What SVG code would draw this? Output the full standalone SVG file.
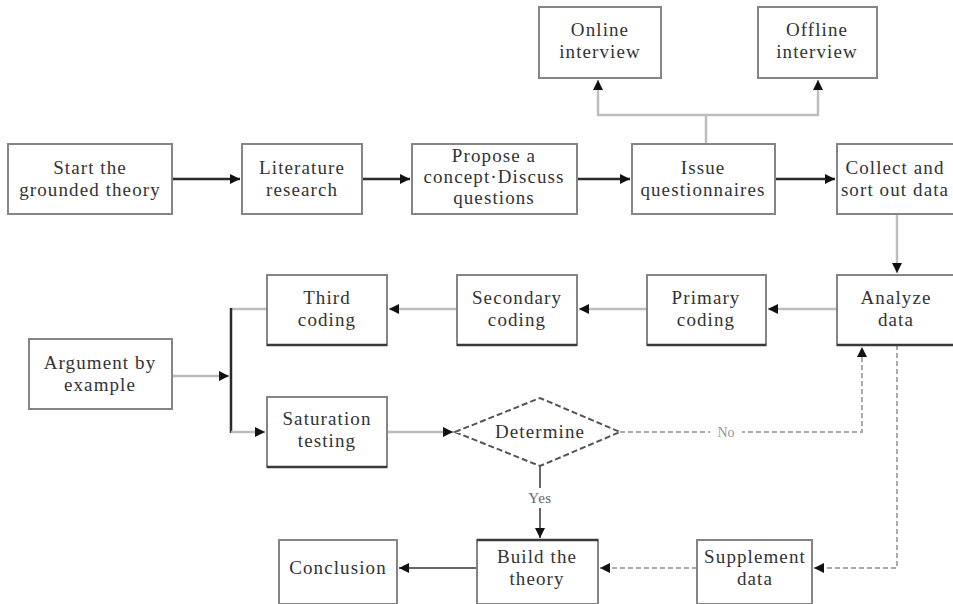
<svg xmlns="http://www.w3.org/2000/svg" width="953" height="604" viewBox="0 0 953 604">
<style>
.box{fill:#fff;stroke:#858585;stroke-width:2}
.bot{stroke:#3a3a3a;stroke-width:2.5}
.t{font-family:"Liberation Serif","Times New Roman",serif;font-size:19px;letter-spacing:1.1px;fill:#333;text-anchor:middle}
.dk{fill:none;stroke:#2a2a2a;stroke-width:2.5}
.lg{fill:none;stroke:#bdbdbd;stroke-width:2.5}
.mg{fill:none;stroke:#666;stroke-width:2}
.ds{fill:none;stroke:#aaa;stroke-width:2;stroke-dasharray:5,3}
</style>
<defs>
<marker id="a" viewBox="0 0 10 10" refX="10" refY="5" markerWidth="4" markerHeight="4" orient="auto" markerUnits="strokeWidth">
<path d="M0,0 L10,5 L0,10 z" fill="#111"/>
</marker>
<marker id="a2" viewBox="0 0 10 10" refX="10" refY="5" markerWidth="5" markerHeight="5" orient="auto" markerUnits="strokeWidth">
<path d="M0,0 L10,5 L0,10 z" fill="#111"/>
</marker>
</defs>
<g id="connectors">
<line class="dk" x1="172" y1="179" x2="240" y2="179" marker-end="url(#a)"/>
<line class="dk" x1="362" y1="179" x2="410" y2="179" marker-end="url(#a)"/>
<line class="dk" x1="577" y1="179" x2="630" y2="179" marker-end="url(#a)"/>
<line class="dk" x1="775" y1="179" x2="835" y2="179" marker-end="url(#a)"/>
<polyline class="lg" points="706,144 706,115 598,115 598,80" marker-end="url(#a)"/>
<polyline class="lg" points="706,115 818,115 818,80" marker-end="url(#a)"/>
<line class="lg" x1="897" y1="214" x2="897" y2="273" marker-end="url(#a)"/>
<line class="lg" x1="837" y1="309" x2="768" y2="309" marker-end="url(#a)"/>
<line class="lg" x1="647" y1="309" x2="579" y2="309" marker-end="url(#a)"/>
<line class="lg" x1="457" y1="309" x2="389" y2="309" marker-end="url(#a)"/>
<line class="lg" x1="267" y1="309" x2="231" y2="309"/>
<line class="dk" x1="231" y1="308" x2="231" y2="433"/>
<line class="lg" x1="172" y1="376" x2="229" y2="376" marker-end="url(#a)"/>
<line class="lg" x1="231" y1="432" x2="265" y2="432" marker-end="url(#a)"/>
<line class="lg" x1="387" y1="432" x2="453" y2="432" marker-end="url(#a)"/>
<polyline class="ds" points="620,432 862,432 862,347" marker-end="url(#a2)"/>
<polyline class="ds" points="897,345 897,568 814,568" marker-end="url(#a2)"/>
<line class="ds" x1="697" y1="568" x2="600" y2="568" marker-end="url(#a2)"/>
<line class="mg" x1="477" y1="568" x2="399" y2="568" marker-end="url(#a2)"/>
<line class="mg" x1="540" y1="466" x2="540" y2="538" marker-end="url(#a2)"/>
<rect x="710" y="423" width="32" height="18" fill="#fff"/>
<text class="t" x="726" y="437" style="font-size:14px;letter-spacing:0;fill:#999">No</text>
<rect x="522" y="488" width="36" height="20" fill="#fff"/>
<text class="t" x="540" y="503" style="font-size:15px;letter-spacing:0.5px;fill:#666">Yes</text>
</g>
<g id="start"><rect class="box" x="8" y="144" width="164" height="70"/><text class="t" x="90" y="174">Start the</text><text class="t" x="90" y="196">grounded theory</text></g>
<g id="literature"><rect class="box" x="242" y="144" width="120" height="70"/><text class="t" x="302" y="174">Literature</text><text class="t" x="302" y="196">research</text></g>
<g id="propose"><rect class="box" x="412" y="144" width="165" height="70"/><text class="t" x="494" y="162">Propose a</text><text class="t" x="494" y="183">concept·Discuss</text><text class="t" x="494" y="204">questions</text></g>
<g id="issue"><rect class="box" x="632" y="144" width="143" height="70"/><text class="t" x="703" y="174">Issue</text><text class="t" x="703" y="196">questionnaires</text></g>
<g id="collect"><rect class="box" x="837" y="144" width="125" height="70"/><text class="t" x="895" y="174">Collect and</text><text class="t" x="895" y="196">sort out data</text></g>
<g id="online"><rect class="box" x="539" y="7" width="122" height="71"/><text class="t" x="600" y="36">Online</text><text class="t" x="600" y="58">interview</text></g>
<g id="offline"><rect class="box" x="758" y="7" width="119" height="71"/><text class="t" x="817" y="36">Offline</text><text class="t" x="817" y="58">interview</text></g>
<g id="third"><rect class="box" x="267" y="275" width="120" height="70"/><line class="bot" x1="267" y1="345" x2="387" y2="345"/><text class="t" x="327" y="304">Third</text><text class="t" x="327" y="326">coding</text></g>
<g id="secondary"><rect class="box" x="457" y="275" width="120" height="70"/><line class="bot" x1="457" y1="345" x2="577" y2="345"/><text class="t" x="517" y="304">Secondary</text><text class="t" x="517" y="326">coding</text></g>
<g id="primary"><rect class="box" x="647" y="275" width="119" height="70"/><line class="bot" x1="647" y1="345" x2="766" y2="345"/><text class="t" x="706" y="304">Primary</text><text class="t" x="706" y="326">coding</text></g>
<g id="analyze"><rect class="box" x="837" y="275" width="125" height="70"/><line class="bot" x1="837" y1="345" x2="953" y2="345"/><text class="t" x="896" y="304">Analyze</text><text class="t" x="896" y="326">data</text></g>
<g id="argument"><rect class="box" x="29" y="339" width="143" height="70"/><text class="t" x="100" y="369">Argument by</text><text class="t" x="100" y="391">example</text></g>
<g id="saturation"><rect class="box" x="267" y="397" width="120" height="70"/><line class="bot" x1="267" y1="467" x2="387" y2="467"/><text class="t" x="327" y="425">Saturation</text><text class="t" x="327" y="447">testing</text></g>
<g id="determine"><polygon points="455,432 540,398 620,432 540,466" fill="#fff" stroke="#555" stroke-width="2" stroke-dasharray="6,3"/><text class="t" x="540" y="438">Determine</text></g>
<g id="conclusion"><rect class="box" x="279" y="540" width="118" height="64"/><text class="t" x="338" y="574">Conclusion</text></g>
<g id="build"><rect class="box" x="477" y="540" width="121" height="64"/><line class="bot" x1="477" y1="540" x2="598" y2="540"/><text class="t" x="537" y="563">Build the</text><text class="t" x="537" y="585">theory</text></g>
<g id="supplement"><rect class="box" x="697" y="540" width="115" height="64"/><text class="t" x="755" y="563">Supplement</text><text class="t" x="755" y="585">data</text></g>
</svg>
